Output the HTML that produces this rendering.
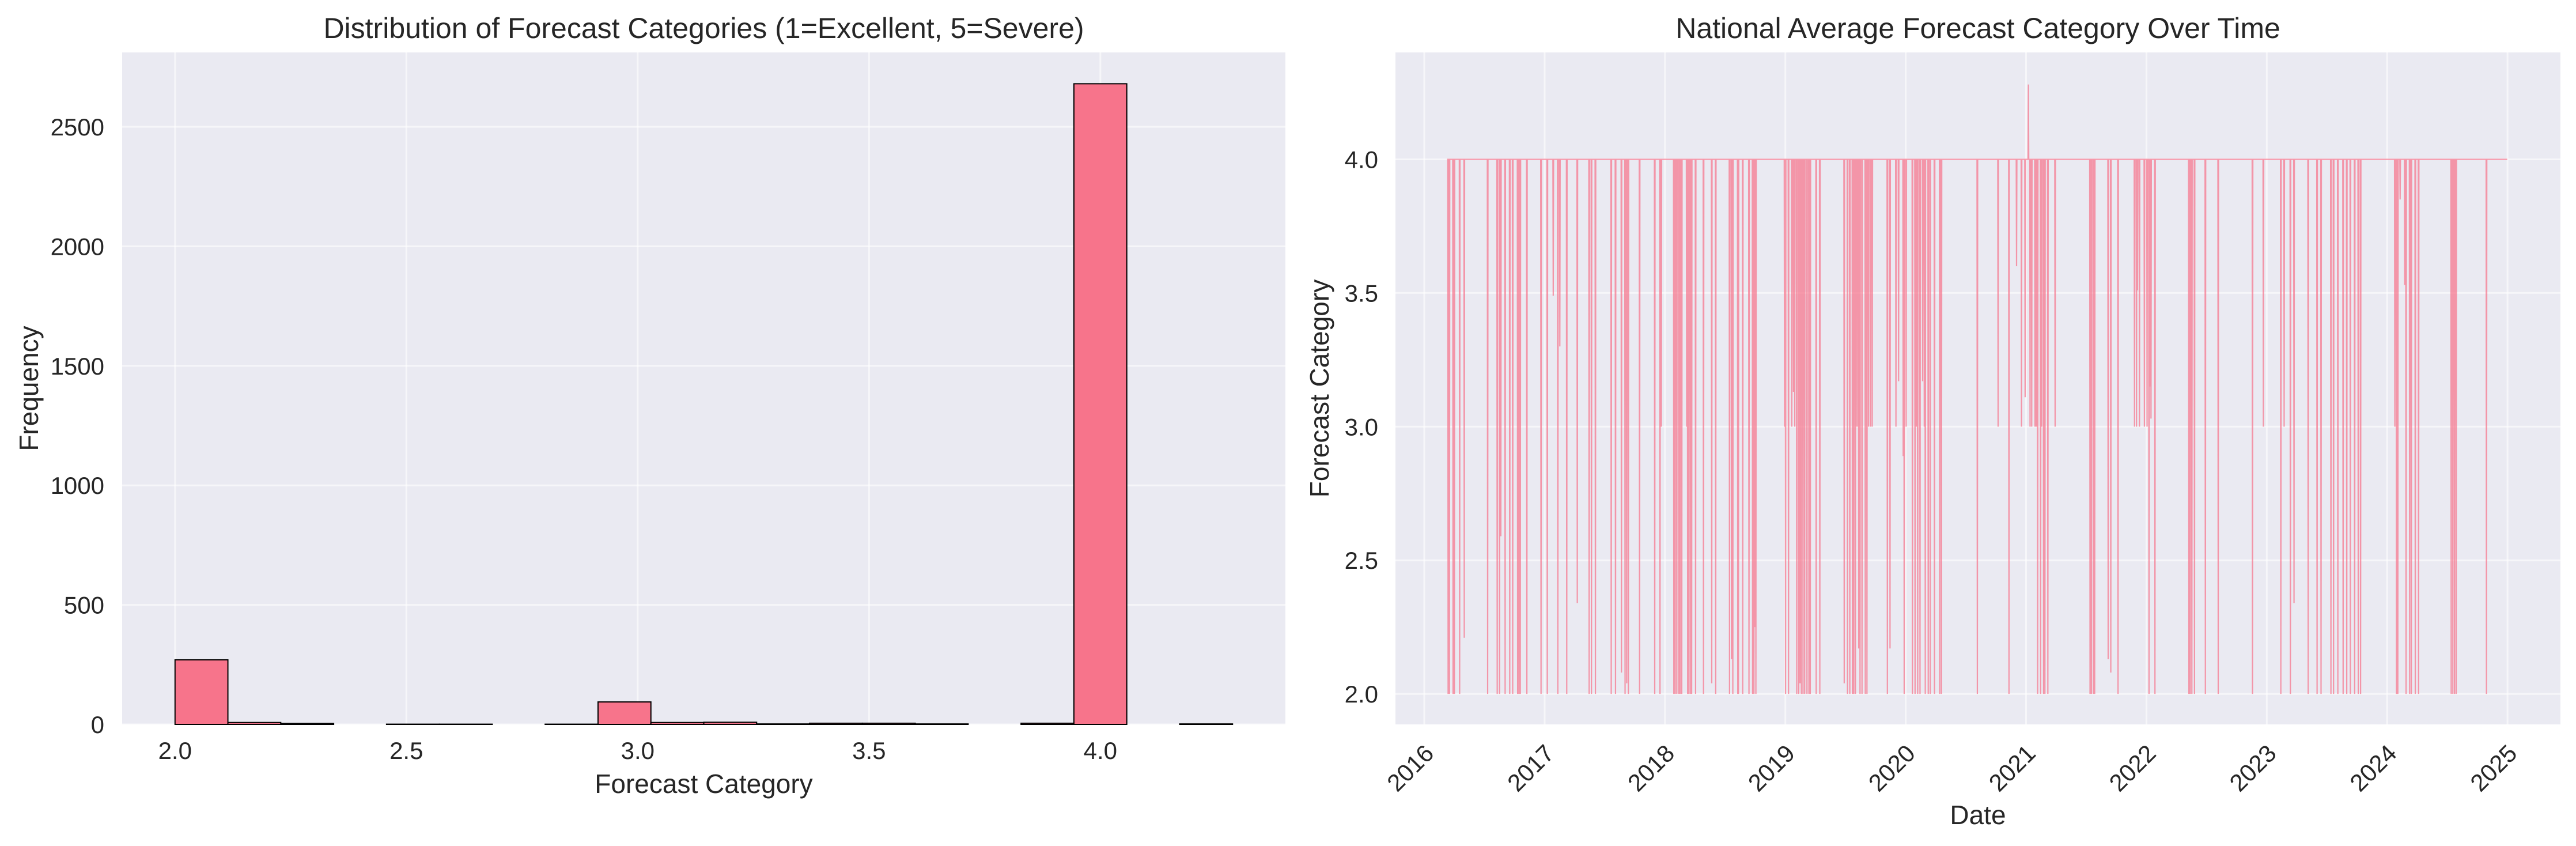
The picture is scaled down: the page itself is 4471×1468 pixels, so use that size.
<!DOCTYPE html>
<html><head><meta charset="utf-8"><style>
html,body{margin:0;padding:0;background:#fff;}
svg{display:block;font-family:"Liberation Sans",Arial,sans-serif;}
</style></head><body>
<svg id="fig" width="4471" height="1468" viewBox="0 0 4471 1468" xmlns="http://www.w3.org/2000/svg">
<g id="left"></g>
<g id="right"></g>
</svg>
<script>
// ---------- Histogram data ----------
const binStart = 2.0;
const binWidth = 0.1142857;
const binCounts = [270, 8, 4, 0, 1, 1, 0, 1, 94, 8, 9, 2, 5, 5, 2, 0, 5, 2680, 0, 2];
const histXTicks = [2.0, 2.5, 3.0, 3.5, 4.0];
const histYTicks = [0, 500, 1000, 1500, 2000, 2500];

// ---------- Time series data ----------
const seriesStart = 2016.19;
const seriesEnd = 2024.999;
const baseValue = 4.0;
const dipYears = [2016.198,2016.209,2016.238,2016.251,2016.295,2016.332,2016.527,2016.605,2016.624,2016.637,2016.672,2016.709,2016.734,2016.776,2016.787,2016.798,2016.852,2016.970,2017.021,2017.072,2017.111,2017.127,2017.184,2017.272,2017.371,2017.388,2017.422,2017.554,2017.588,2017.639,2017.669,2017.682,2017.696,2017.789,2017.915,2017.960,2017.969,2018.073,2018.084,2018.097,2018.116,2018.126,2018.140,2018.180,2018.189,2018.200,2018.213,2018.221,2018.253,2018.320,2018.389,2018.421,2018.536,2018.552,2018.563,2018.604,2018.611,2018.646,2018.697,2018.727,2018.738,2018.748,2018.756,2018.994,2019.003,2019.026,2019.054,2019.067,2019.078,2019.094,2019.110,2019.121,2019.134,2019.147,2019.161,2019.179,2019.195,2019.207,2019.257,2019.286,2019.490,2019.517,2019.536,2019.557,2019.568,2019.581,2019.597,2019.610,2019.621,2019.637,2019.664,2019.677,2019.692,2019.708,2019.721,2019.849,2019.871,2019.919,2019.940,2019.980,2019.988,2020.004,2020.056,2020.079,2020.088,2020.099,2020.120,2020.142,2020.155,2020.163,2020.187,2020.203,2020.238,2020.283,2020.296,2020.594,2020.769,2020.857,2020.921,2020.961,2020.993,2021.020,2021.033,2021.046,2021.073,2021.084,2021.097,2021.120,2021.129,2021.145,2021.156,2021.180,2021.240,2021.531,2021.543,2021.559,2021.571,2021.682,2021.703,2021.764,2021.902,2021.918,2021.926,2021.942,2021.982,2022.006,2022.022,2022.027,2022.038,2022.070,2022.352,2022.365,2022.378,2022.400,2022.490,2022.597,2022.881,2022.973,2023.116,2023.143,2023.195,2023.227,2023.344,2023.418,2023.450,2023.532,2023.555,2023.590,2023.634,2023.664,2023.695,2023.730,2023.760,2023.779,2024.063,2024.077,2024.090,2024.107,2024.147,2024.156,2024.186,2024.200,2024.233,2024.260,2024.533,2024.545,2024.559,2024.572,2024.826];
const dipValues = [2,2,2,2,2,2.21,2,2,2,2.59,2,2,2,2,2,2,2,2,2,3.49,2,3.3,2,2.34,2,2,2,2,2,2.08,2,2.04,2,2,2,2,3.0,2,2,2,2,2,2,3,2,2,2,2,2,2,2.04,2,2,2.13,2,2,2,2,2,2,2,2.25,2,3,2,2,3,3.13,3,2,2,2.04,2,2,2,2,2,2,2,2,2.04,2,2,2,2,2,3,2.17,2,2,2,2,3,3,3,2,2.17,3,3.17,2.89,2,3,2,2,3,2,2,3.17,3,2,2,2,2,2,2,2,3,2,3.6,3,3.11,4.28,3,3,3,3,2,2,3,2,2,2,3,2,2,2,2,2.13,2.08,2,3,3,3.51,3,3,3,2,3.15,3.03,2,2,2,2,2,2,2,2,3,2,3,2,2.34,2,2,2,2,2,2,2,2,2,2,2,2,3,2,2,3.85,3.53,2,2,2,2,2,2,2,2,2,2];
const dateTickYears = [2016,2017,2018,2019,2020,2021,2022,2023,2024,2025];
const tsYTicks = [2.0, 2.5, 3.0, 3.5, 4.0];

const NS = "http://www.w3.org/2000/svg";
function mk(parent, tag, attrs, text){
  const e = document.createElementNS(NS, tag);
  for (const k in attrs) e.setAttribute(k, attrs[k]);
  if (text !== undefined) e.textContent = text;
  parent.appendChild(e);
  return e;
}
const BG = "#eaeaf2", TXT = "#262626", FONT = 42;

// ---------- Left histogram ----------
(function(){
  const g = document.getElementById('left');
  const L = 212, R = 2231, T = 91, B = 1257;
  const xmin = 1.8857, xmax = 4.4;
  const ymax = 2811;
  const xs = v => L + (v - xmin) / (xmax - xmin) * (R - L);
  const ys = v => B - v / ymax * (B - T);
  const bg = mk(g, 'rect', {x:L, y:T, width:R-L, height:B-T, fill:BG});
  
  
  histXTicks.forEach(t => {
    const x = xs(t);
    const gl = mk(g, 'line', {x1:x, x2:x, y1:T, y2:B, stroke:'#fff', 'stroke-width':3, opacity:0.6});
    
    
    const tl = mk(g, 'text', {x:x, y:1317, 'font-size':FONT, fill:TXT, 'text-anchor':'middle'}, t.toFixed(1));
    
    
  });
  histYTicks.forEach(t => {
    const y = ys(t);
    const gl = mk(g, 'line', {x1:L, x2:R, y1:y, y2:y, stroke:'#fff', 'stroke-width':3, opacity:0.6});
    
    
    const tl = mk(g, 'text', {x:181, y:y+15, 'font-size':FONT, fill:TXT, 'text-anchor':'end'}, String(t));
    
    
  });
  binCounts.forEach((c, i) => {
    const x0 = xs(binStart + i * binWidth), x1 = xs(binStart + (i + 1) * binWidth);
    const y = ys(c);
    const r = mk(g, 'rect', {x:x0, y:y, width:x1-x0, height:B-y, fill:'#f77189', 'fill-opacity':0.98, stroke:'#000', 'stroke-width':2});
    
    
  });
  const title = mk(g, 'text', {x:(L+R)/2, y:66, 'font-size':50, fill:TXT, 'text-anchor':'middle'}, 'Distribution of Forecast Categories (1=Excellent, 5=Severe)');
  
  
  const xl = mk(g, 'text', {x:(L+R)/2, y:1376, 'font-size':46, fill:TXT, 'text-anchor':'middle'}, 'Forecast Category');
  
  
  const yl = mk(g, 'text', {x:0, y:0, 'font-size':46, fill:TXT, 'text-anchor':'middle', transform:'translate(66,'+((T+B)/2)+') rotate(-90)'}, 'Frequency');
  
  
})();

// ---------- Right time series ----------
(function(){
  const g = document.getElementById('right');
  const L = 2422, R = 4444, T = 91, B = 1257;
  const xmin = 2015.7607, xmax = 2025.4398;
  const ymin = 1.886, ymax = 4.4;
  const xs = v => L + (v - xmin) / (xmax - xmin) * (R - L);
  const ys = v => B - (v - ymin) / (ymax - ymin) * (B - T);
  const bg = mk(g, 'rect', {x:L, y:T, width:R-L, height:B-T, fill:BG});
  
  
  dateTickYears.forEach(t => {
    const x = xs(t);
    const gl = mk(g, 'line', {x1:x, x2:x, y1:T, y2:B, stroke:'#fff', 'stroke-width':3, opacity:0.6});
    
    
    const tl = mk(g, 'text', {x:0, y:0, 'font-size':FONT, fill:TXT, 'text-anchor':'middle', transform:'translate('+(x-14)+',1343) rotate(-45)'}, String(t));
    
    
  });
  tsYTicks.forEach(t => {
    const y = ys(t);
    const gl = mk(g, 'line', {x1:L, x2:R, y1:y, y2:y, stroke:'#fff', 'stroke-width':3, opacity:0.6});
    
    
    const tl = mk(g, 'text', {x:2392, y:y+15, 'font-size':FONT, fill:TXT, 'text-anchor':'end'}, t.toFixed(1));
    
    
  });
  const nDays = Math.round((seriesEnd - seriesStart) * 365.25);
  const vals = new Array(nDays + 1).fill(baseValue);
  dipYears.forEach((yr, i) => {
    const d = Math.round((yr - seriesStart) * 365.25);
    if (d >= 0 && d <= nDays) vals[d] = dipValues[i];
  });
  let pts = [];
  for (let d = 0; d <= nDays; d++) {
    const yr = seriesStart + d / 365.25;
    pts.push(xs(yr).toFixed(2) + ',' + ys(vals[d]).toFixed(2));
  }
  const line = mk(g, 'polyline', {points:pts.join(' '), fill:'none', stroke:'#f77189', 'stroke-width':2.2, 'stroke-opacity':0.7, 'stroke-linejoin':'miter'});
  
  
  const title = mk(g, 'text', {x:(L+R)/2, y:66, 'font-size':50, fill:TXT, 'text-anchor':'middle'}, 'National Average Forecast Category Over Time');
  
  
  const xl = mk(g, 'text', {x:(L+R)/2, y:1430, 'font-size':46, fill:TXT, 'text-anchor':'middle'}, 'Date');
  
  
  const yl = mk(g, 'text', {x:0, y:0, 'font-size':46, fill:TXT, 'text-anchor':'middle', transform:'translate(2306,'+((T+B)/2)+') rotate(-90)'}, 'Forecast Category');
  
  
})();
</script>
</body></html>
